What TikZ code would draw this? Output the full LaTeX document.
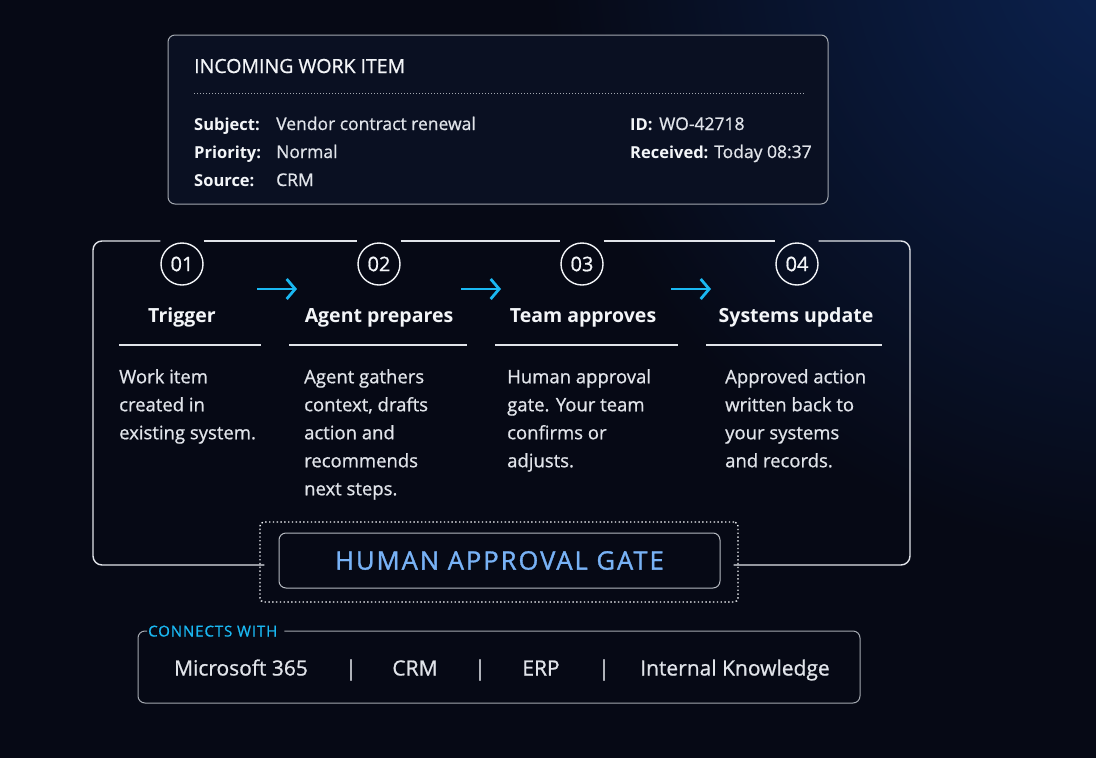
\documentclass[tikz,border=0pt]{standalone}
\usepackage{fontspec}
\setmainfont{Open Sans}
\newfontfamily\medfont{Open Sans}[FakeBold=0.8]
\newfontfamily\gatefont{Open Sans}[FakeBold=1.2]
\usepackage{tikz}
\usetikzlibrary{arrows.meta,positioning,calc}
\definecolor{bgbase}{HTML}{060915}
\definecolor{bgblue}{HTML}{0C2454}
\definecolor{cardfill}{HTML}{0A1022}
\definecolor{edgegray}{HTML}{A3A8B0}
\definecolor{txtwhite}{HTML}{F3F5F8}
\definecolor{txtgray}{HTML}{E1E4EA}
\definecolor{flowcyan}{HTML}{1AB8F2}
\definecolor{gateblue}{HTML}{78B2F6}
\newcommand{\fsz}[2]{\fontsize{#1}{#2}\selectfont}

\begin{document}
\begin{tikzpicture}[x=1pt, y=-1pt, inner sep=0pt,
  card/.style={draw=edgegray, line width=1pt, rounded corners=7pt},
  frame/.style={draw=txtgray, line width=1.4pt, rounded corners=9pt},
  num/.style={circle, draw=txtwhite, line width=1.4pt, minimum size=42pt, text=txtwhite, font=\medfont\fsz{20}{20}},
  ttl/.style={anchor=base, text=txtwhite, font=\bfseries\fsz{19.5}{22}},
  desc/.style={anchor=north west, align=left, text=txtgray, font=\medfont\fsz{18.5}{28}},
  lbl/.style={anchor=base west, text=txtwhite, font=\bfseries\fsz{16.5}{20}},
  val/.style={anchor=base west, text=txtgray, font=\medfont\fsz{17.5}{20}},
  itm/.style={anchor=base, text=txtgray, font=\medfont\fsz{21}{22}},
  arr/.style={-{Straight Barb[length=8.5pt, width=20pt]}, flowcyan, line width=2.8pt}]
\useasboundingbox (0,0) rectangle (1096,758);
% background
\begin{scope}
  \clip (0,0) rectangle (1096,758);
  \fill[bgbase] (0,0) rectangle (1096,758);
  \shade[inner color=bgblue, outer color=bgbase] (1160,-60) circle (620);
\end{scope}

% incoming work item
\node[card, fill=cardfill, minimum width=660pt, minimum height=169pt] (item) at (498,119.5) {};
\node[anchor=base west, text=txtwhite, font=\medfont\fsz{19.5}{20}] (itemttl) at (194,73) {INCOMING WORK ITEM};
\coordinate (sepl) at (194,93);
\coordinate (sepr) at (805,93);
\draw[edgegray, line width=0.8pt, dash pattern=on 1pt off 2pt] (sepl) -- (sepr);
\node[lbl] (subj) at (194,130) {Subject:};
\node[val] (subjv) at (276,130) {Vendor contract renewal};
\node[lbl] (prio) at (194,158) {Priority:};
\node[val] (priov) at (276,158) {Normal};
\node[lbl] (src) at (194,186) {Source:};
\node[val] (srcv) at (276,186) {CRM};
\node[lbl] (id) at (630,130) {ID:};
\node[val] (idv) at (659,130) {WO-42718};
\node[lbl] (recv) at (630,158) {Received:};
\node[val] (recvv) at (714,158) {Today 08:37};

% steps
\node[num] (n1) at (182,264) {01};
\node[num] (n2) at (379,264) {02};
\node[num] (n3) at (582,264) {03};
\node[num] (n4) at (797,264) {04};
\node[ttl] (t1) at (182,322) {Trigger};
\node[ttl] (t2) at (379,322) {Agent prepares};
\node[ttl] (t3) at (583,322) {Team approves};
\node[ttl] (t4) at (796,322) {Systems update};
\draw[txtgray, line width=1.4pt] (119,345) -- (261,345);
\draw[txtgray, line width=1.4pt] (289,345) -- (467,345);
\draw[txtgray, line width=1.4pt] (495,345) -- (678,345);
\draw[txtgray, line width=1.4pt] (706,345) -- (882,345);
\node[desc] (d1) at (119,369) {Work item\\created in\\existing system.};
\node[desc] (d2) at (304,369) {Agent gathers\\context, drafts\\action and\\recommends\\next steps.};
\node[desc] (d3) at (507,369) {Human approval\\gate. Your team\\confirms or\\adjusts.};
\node[desc] (d4) at (725,369) {Approved action\\written back to\\your systems\\and records.};
\coordinate (a1) at (257,289); \coordinate (b1) at (297,289);
\coordinate (a2) at (461,289); \coordinate (b2) at (501,289);
\coordinate (a3) at (671,289); \coordinate (b3) at (711,289);
\draw[arr] (a1) -- (b1);
\draw[arr] (a2) -- (b2);
\draw[arr] (a3) -- (b3);

% approval gate
\node[draw=txtwhite, line width=1.4pt, dash pattern=on 1.4pt off 2.4pt, rounded corners=4pt,
  minimum width=478pt, minimum height=80pt] (gate) at (499,562) {};
\node[card, draw=edgegray!80, fill=bgbase, minimum width=441pt, minimum height=55pt,
  text=gateblue, font=\gatefont\fsz{25.5}{26}\addfontfeatures{LetterSpace=8}] (gatebox) at (499.5,560.5) {HUMAN APPROVAL GATE};

% frame round the steps
\coordinate (tl) at (93,241);
\coordinate (br) at (910,565);
\draw[frame] (n1.west |- tl) -- (tl) -- (tl |- br) -- ($(gate.west |- br)+(5,0)$);
\draw[frame] (n1.east |- tl) -- (n2.west |- tl);
\draw[frame] (n2.east |- tl) -- (n3.west |- tl);
\draw[frame] (n3.east |- tl) -- (n4.west |- tl);
\draw[frame] (n4.east |- tl) -- (tl -| br) -- (br) -- ($(gate.east |- br)+(-5,0)$);

% connects with
\node[anchor=base west, text=flowcyan, font=\medfont\fsz{15}{16}\addfontfeatures{LetterSpace=6}] (conlbl) at (148,636.5) {CONNECTS WITH};
\coordinate (ctl) at (138,631);
\coordinate (cbr) at (860,703);
\draw[card] ($(conlbl.east |- ctl)+(7,0)$) -- (ctl -| cbr) -- (cbr) -- (ctl |- cbr) -- (ctl) -- ($(conlbl.west |- ctl)+(-1,0)$);
\node[itm] (ms) at (241,675.5) {Microsoft 365};
\node[itm] (crm) at (415,675.5) {CRM};
\node[itm] (erp) at (541,675.5) {ERP};
\node[itm] (kb) at (735,675.5) {Internal Knowledge};
\node[itm] (s1) at (351,675.5) {|};
\node[itm] (s2) at (480,675.5) {|};
\node[itm] (s3) at (604,675.5) {|};
\end{tikzpicture}
\end{document}
